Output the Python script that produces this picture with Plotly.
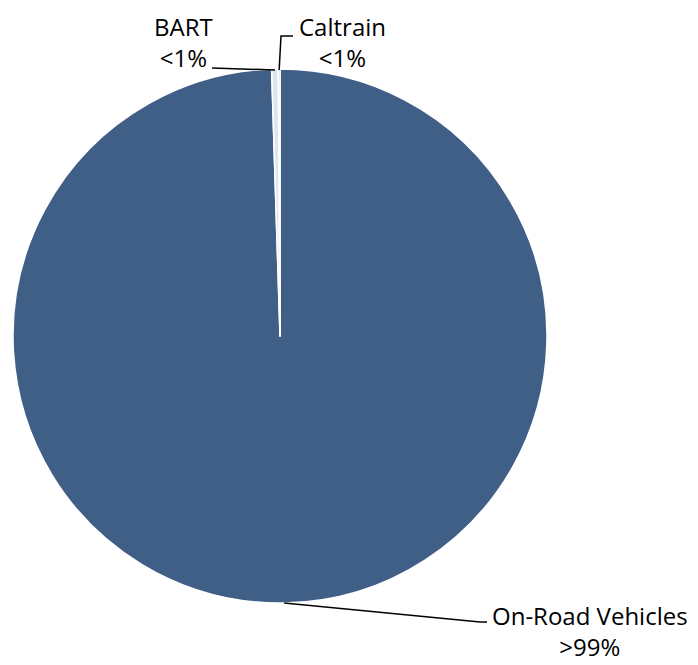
import math
import plotly.graph_objects as go

labels = ["On-Road Vehicles", "BART", "Caltrain"]
values = [99.5, 0.4, 0.1]
label_names = ["On-Road Vehicles", "BART", "Caltrain"]
label_pcts = [">99%", "<1%", "<1%"]
colors = ["#3F5F87", "#DCE6F1", "#6E8F4E"]

OFF = 8  # page body margin
W, H = 698 - OFF, 665 - OFF
CX, CY, R = 280, 336, 267  # pie geometry in page pixels

def px(x):
    return (x - OFF) / W

def py(y):
    return 1 - (y - OFF) / H

fig = go.Figure(go.Pie(
    labels=labels, values=values, sort=False, direction="clockwise", rotation=0,
    marker=dict(colors=colors, line=dict(color="white", width=1.5)),
    textinfo="none", hoverinfo="label+percent", showlegend=False,
    domain=dict(x=[px(CX - R), px(CX + R)], y=[py(CY + R), py(CY - R)]),
))

# mid-angle anchor points on the rim (computed from the data)
total = sum(values)
anchors = []
cum = 0
for v in values:
    mid = (cum + v / 2) / total * 2 * math.pi
    anchors.append((CX + R * math.sin(mid), CY - R * math.cos(mid)))
    cum += v

font = dict(family="Open Sans, Lato, sans-serif", size=24, color="black")

label_pos = [(590, 631), (183, 42), (342, 42)]
elbows = [[(480, 622), (487, 622)], [(212, 68)], [(281, 36), (293, 36)]]
anchor_y_override = [None, 70, 70]

shapes = []
for i, (ax, ay) in enumerate(anchors):
    if anchor_y_override[i] is not None:
        ay = anchor_y_override[i]
    pts = [(ax, ay)] + elbows[i]
    path = "M " + " L ".join(f"{px(x)},{py(y)}" for x, y in pts)
    shapes.append(dict(type="path", path=path, xref="paper", yref="paper",
                       line=dict(color="black", width=1.5)))

annotations = []
for i in range(len(label_names)):
    x, y = label_pos[i]
    annotations.append(dict(text=f"{label_names[i]}<br>{label_pcts[i]}",
                            x=px(x), y=py(y), xref="paper", yref="paper",
                            showarrow=False, font=font, align="center",
                            xanchor="center", yanchor="middle"))

fig.update_layout(
    width=W, height=H, margin=dict(l=0, r=0, t=0, b=0),
    paper_bgcolor="white", plot_bgcolor="white",
    shapes=shapes, annotations=annotations,
)

fig.write_html("out.html")
